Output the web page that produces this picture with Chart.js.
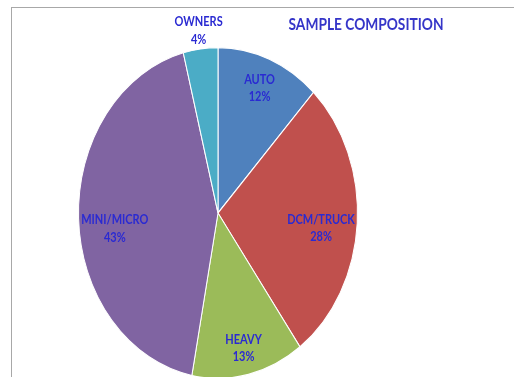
<!DOCTYPE html>
<html>
<head>
<meta charset="utf-8">
<script src="https://cdn.jsdelivr.net/npm/chart.js@4/dist/chart.umd.min.js"></script>
<style>
  html, body { margin: 0; padding: 0; background: #fff; overflow: hidden; }
  #wrap { position: relative; width: 514px; height: 377px; }
  #frame { position: absolute; left: 11px; top: 7px; width: 600px; height: 500px;
           border: 1px solid #a8a8a8; box-sizing: border-box; }
  canvas { position: absolute; left: 0; top: 0; }
</style>
</head>
<body>
<div id="wrap">
  <div id="frame"></div>
  <canvas id="pie" width="514" height="377"></canvas>
</div>
<script>
// datos del grafico
const title = 'SAMPLE COMPOSITION';
const segments = ['AUTO', 'DCM/TRUCK', 'HEAVY', 'MINI/MICRO', 'OWNERS'];
const shares = [12, 28, 13, 43, 4];
const sliceColors = ['#4F81BD', '#C0504D', '#9BBB59', '#8064A2', '#4BACC6'];

// el pie original esta estirado en vertical (elipse)
const stretchY = 166 / 140;
// donde cae cada etiqueta: fraccion del radio y ajuste vertical (px)
const labelRadius = [0.81, 0.74, 0.84, 0.74, 1.11];
const labelNudge = [0, 8, 0, 12, 0];

const ellipsePlugin = {
  id: 'ellipse',
  beforeDatasetsDraw(chart) {
    const arc = chart.getDatasetMeta(0).data[0];
    const ctx = chart.ctx;
    ctx.save();
    ctx.translate(arc.x, arc.y);
    ctx.scale(1, stretchY);
    ctx.translate(-arc.x, -arc.y);
  },
  afterDatasetsDraw(chart) {
    chart.ctx.restore();
  },
  afterDraw(chart) {
    const ctx = chart.ctx;
    const meta = chart.getDatasetMeta(0);
    ctx.save();
    ctx.textAlign = 'center';
    ctx.textBaseline = 'middle';

    // titulo
    ctx.fillStyle = '#3535c8';
    ctx.font = 'bold 17px Lato, "Open Sans", sans-serif';
    ctx.fillText(title, 366, 25, 155);

    // etiquetas de cada porcion (texto un poco estirado, como el original)
    ctx.fillStyle = '#2a2ad2';
    ctx.font = 'bold 11px Lato, "Open Sans", sans-serif';
    const ts = 1.15;
    meta.data.forEach((arc, i) => {
      const mid = (arc.startAngle + arc.endAngle) / 2;
      const f = labelRadius[i];
      const px = arc.x + Math.cos(mid) * arc.outerRadius * f;
      const py = arc.y + Math.sin(mid) * arc.outerRadius * f * stretchY + labelNudge[i];
      ctx.save();
      ctx.translate(px, py);
      ctx.scale(1, ts);
      ctx.fillText(segments[i], 0, -7.5);
      ctx.fillText(shares[i] + '%', 0, 7.5);
      ctx.restore();
    });
    ctx.restore();
  }
};

new Chart(document.getElementById('pie').getContext('2d'), {
  type: 'pie',
  data: {
    labels: segments,
    datasets: [{
      data: shares,
      backgroundColor: sliceColors,
      borderColor: '#ffffff',
      borderWidth: 1
    }]
  },
  options: {
    responsive: false,
    animation: false,
    layout: { padding: { left: 78, right: 156, top: 73, bottom: 24 } },
    plugins: {
      legend: { display: false },
      tooltip: { enabled: false },
      title: { display: false }
    }
  },
  plugins: [ellipsePlugin]
});
</script>
</body>
</html>
